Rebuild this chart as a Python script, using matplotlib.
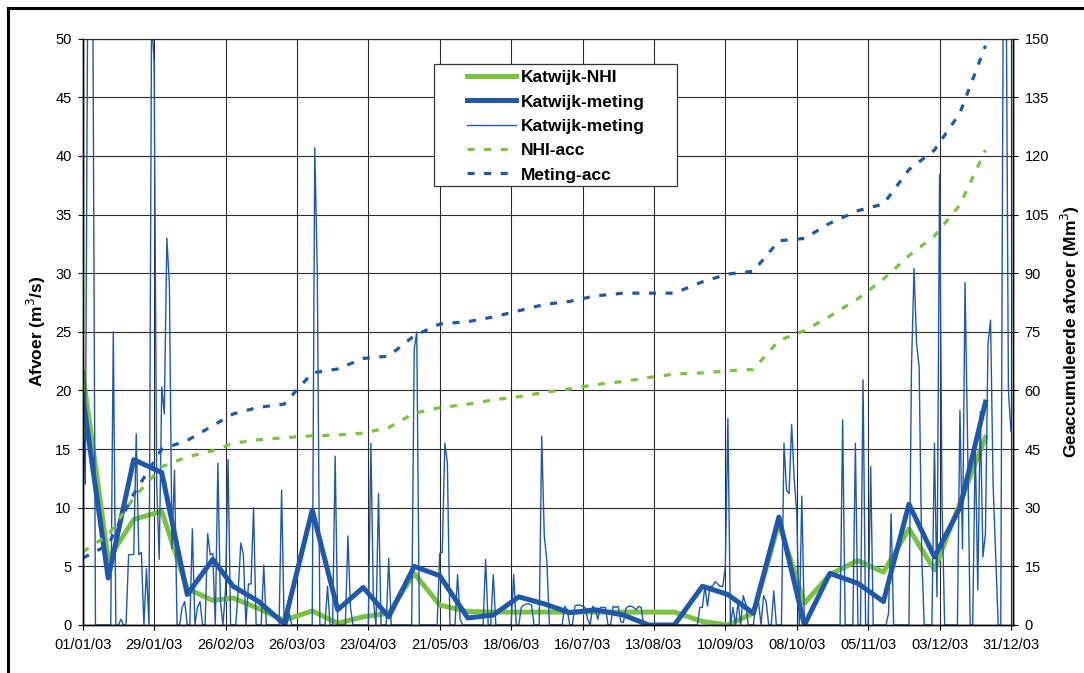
import matplotlib.pyplot as plt
import matplotlib.dates as mdates
from matplotlib.lines import Line2D
from matplotlib.patches import Rectangle
import pandas as pd

plt.rcParams['font.family'] = ['Liberation Sans', 'DejaVu Sans']

# dekad start dates: 1st, 11th and 21st of every month
dekads = pd.to_datetime([f'2003-{m:02d}-{d:02d}' for m in range(1, 13) for d in (1, 11, 21)])
days = pd.date_range('2003-01-01', '2003-12-31', freq='D')

# dekad mean discharge (m3/s)
katwijk_nhi = [21.5, 5.6, 9.0, 9.7, 3.1, 2.1, 2.3, 1.4, 0.4, 1.2, 0.15, 0.7,
               1.0, 4.4, 1.7, 1.15, 1.1, 1.1, 1.1, 1.1, 1.1, 1.1, 1.1, 1.1,
               0.3, 0.0, 1.0, 8.7, 1.85, 4.3, 5.5, 4.5, 8.2, 4.7, 10.4, 16.0]
katwijk_meting = [19.5, 4.0, 14.1, 13.0, 2.6, 5.6, 3.3, 2.0, 0.1, 9.8, 1.3, 3.2,
                  0.7, 5.0, 4.2, 0.6, 0.85, 2.4, 1.8, 1.05, 1.3, 0.85, 0.0, 0.0,
                  3.3, 2.6, 1.0, 9.2, 0.0, 4.4, 3.55, 2.0, 10.3, 5.8, 10.0, 19.0]

# accumulated volume (Mm3), secondary axis
nhi_acc = [18.7, 23.0, 32.5, 40.5, 43.0, 44.6, 46.5, 47.4, 47.9, 48.4, 48.6, 49.1,
           50.5, 54.2, 55.6, 56.5, 57.6, 58.4, 59.5, 60.4, 61.5, 62.3, 63.3, 64.2,
           64.5, 65.0, 65.4, 72.8, 75.3, 79.0, 83.5, 88.5, 94.5, 99.5, 107.5, 121.5]
meting_acc = [17.1, 20.5, 33.5, 45.0, 47.2, 51.0, 54.0, 55.7, 56.5, 64.5, 65.5, 68.2,
              68.8, 74.0, 77.0, 77.6, 78.8, 80.4, 82.0, 82.8, 84.2, 84.9, 84.9, 84.9,
              87.8, 89.8, 90.5, 98.3, 98.9, 102.8, 106.0, 107.7, 116.5, 121.5, 131.0, 148.2]

# daily measured discharge (m3/s)
meting_daily = [
    20, 12, 55, 58, 52, 0, 0, 0, 0, 0,
    0, 0, 25, 0, 0, 0.5, 0, 0, 6, 6,
    6, 16.3, 6, 6.2, 0, 4.8, 0, 52, 48, 12,
    5.6, 20.3, 18, 33, 29, 6.5, 13.2, 0, 0, 1.5,
    2, 0, 0, 8.2, 0, 1.5, 2, 0, 0, 7.8,
    6, 6.1, 0, 13.8, 2, 0, 3, 14.1, 0, 0,
    0, 3, 7, 6, 0, 3.5, 3.5, 10, 0, 0,
    0, 5.1, 0, 0, 0, 0, 0, 0, 11.5, 0,
    0, 1, 0, 0, 0, 0, 0, 0, 0, 0,
    0, 40.7, 30, 0, 0, 0, 3.3, 0, 0, 14.4,
    0, 0, 0, 0, 7.6, 1.5, 0, 0, 0, 0,
    0, 0, 0, 15.5, 2, 0, 11.2, 0, 0, 0,
    5.7, 0, 0, 0, 0, 0, 0, 0, 0, 0,
    23.5, 25, 0, 0, 0, 0, 0, 0, 0, 0,
    6.1, 6.2, 15.5, 13.8, 0, 0, 0, 4.3, 0.5, 0,
    0, 0, 0, 0, 0, 0, 0, 0, 5.6, 0,
    0, 4.3, 0, 0, 0, 0, 0, 0, 0, 4.3,
    0, 0, 1.5, 1.7, 1.8, 1.8, 1.7, 0, 0, 0,
    16.1, 7.6, 5.5, 0, 0, 0, 0, 0, 0, 1.6,
    1.3, 0, 0, 1.6, 1.7, 1.7, 1.6, 1.5, 0.5, 0,
    1.6, 1.3, 0.5, 1.5, 1.5, 1.5, 0, 0, 1.6, 1.5,
    1.6, 0.3, 0.2, 1.4, 1.6, 1.6, 1.5, 1.3, 1.6, 1.5,
    0, 0, 0, 0, 0, 0, 0, 0, 0, 0,
    0, 0, 0, 0, 0, 0, 0, 0, 0, 0,
    0, 0, 1.5, 1.5, 3.3, 1.6, 3.3, 3.3, 3.7, 3.5,
    3.3, 3.3, 5, 17.6, 0, 1.5, 0, 2, 0, 2.5,
    1.8, 0, 0, 0, 2, 2, 0, 2.5, 2, 0,
    0, 2.9, 0, 0, 0, 15.5, 11.5, 11.2, 17.1, 12.5,
    9.5, 0, 11, 0, 0, 0, 0, 0, 0, 0,
    0, 0, 0, 0, 0, 0, 0, 0, 17.5, 0,
    0, 0, 0, 15.5, 0, 0, 20.9, 0, 0, 13.5,
    0, 0, 0, 0, 0, 0, 1, 9.5, 0, 0,
    0, 0, 0, 0, 0, 22, 30.4, 24, 22, 6,
    0, 0, 0, 0, 15.5, 2.4, 38.4, 10, 0, 0,
    0, 0, 0, 0, 18.3, 6.5, 29.2, 15.6, 0, 0,
    15.5, 3, 18.2, 5.8, 7.8, 24, 26, 12, 6, 0,
    0, 55, 60, 20, 16.5,
]

GREEN = '#7cc242'
BLUE = '#1f58a8'
GRID = '#2b2b2b'

W, H = 1084, 673
fig = plt.figure(figsize=(W / 100, H / 100), dpi=100)
ax = fig.add_axes([82.7 / W, 1 - 625 / H, 930.8 / W, 586.3 / H])

l_nhi, = ax.plot(dekads, katwijk_nhi, color=GREEN, lw=3.6, label='Katwijk-NHI')
l_met, = ax.plot(dekads, katwijk_meting, color=BLUE, lw=3.6, label='Katwijk-meting')
l_day, = ax.plot(days, meting_daily, color=BLUE, lw=1.0, label='Katwijk-meting')

ax.set_xlim(pd.Timestamp('2003-01-01'), pd.Timestamp('2004-01-01'))
ax.set_xticks(pd.date_range('2003-01-01', periods=14, freq='28D'))
ax.xaxis.set_major_formatter(mdates.DateFormatter('%d/%m/%y'))
ax.set_ylim(0, 50)
ax.set_yticks(range(0, 51, 5))
ax.grid(True, color=GRID, lw=0.8)
ax.set_axisbelow(True)
ax.tick_params(axis='both', labelsize=10.5, length=3.5, width=0.8, color='black')
ax.tick_params(axis='x', pad=6)
ax.tick_params(axis='y', pad=4.5)
ax.set_ylabel('Afvoer (m$^3$/s)', fontsize=12.5, fontweight='bold', labelpad=5)

ax2 = ax.twinx()
l_nacc, = ax2.plot(dekads, nhi_acc, color=GREEN, lw=2.3, dashes=(2.2, 3), label='NHI-acc')
l_macc, = ax2.plot(dekads, meting_acc, color=BLUE, lw=2.3, dashes=(2.2, 3), label='Meting-acc')
ax2.set_ylim(0, 150)
ax2.set_yticks(range(0, 151, 15))
ax2.tick_params(axis='y', labelsize=10.5, length=3.5, width=0.8, pad=4.5)
ax2.set_ylabel('Geaccumuleerde afvoer (Mm$^3$)', fontsize=12.5, fontweight='bold', labelpad=7)

for a in (ax, ax2):
    a.spines['top'].set_color(GRID)
    a.spines['top'].set_linewidth(0.8)
    a.spines['left'].set_linewidth(1.0)
    a.spines['right'].set_linewidth(1.0)
    a.spines['bottom'].set_linewidth(1.0)

# legend without frame, boxed separately
handles = [l_nhi, l_met, l_day, l_nacc, l_macc]
fig.legend(handles, [h.get_label() for h in handles], loc='upper left',
           bbox_to_anchor=(467 / W, 1 - 70 / H), bbox_transform=fig.transFigure,
           frameon=False, prop={'size': 12.5, 'weight': 'bold'},
           handlelength=2.8, handletextpad=0.3, labelspacing=0.53, borderpad=0,
           borderaxespad=0)
fig.add_artist(Rectangle((434 / W, 1 - 185.7 / H), 242.7 / W, 121.4 / H,
                         transform=fig.transFigure, facecolor='white',
                         edgecolor='#333333', lw=0.9, zorder=1.5))

# outer frame
fig.add_artist(Line2D([7.5 / W, 7.5 / W], [0, 1 - 8.3 / H], transform=fig.transFigure,
                      color='black', lw=2.2))
fig.add_artist(Line2D([7.5 / W, 1], [1 - 8.3 / H, 1 - 8.3 / H], transform=fig.transFigure,
                      color='black', lw=2.2))

fig.savefig('out.png', dpi=100)
